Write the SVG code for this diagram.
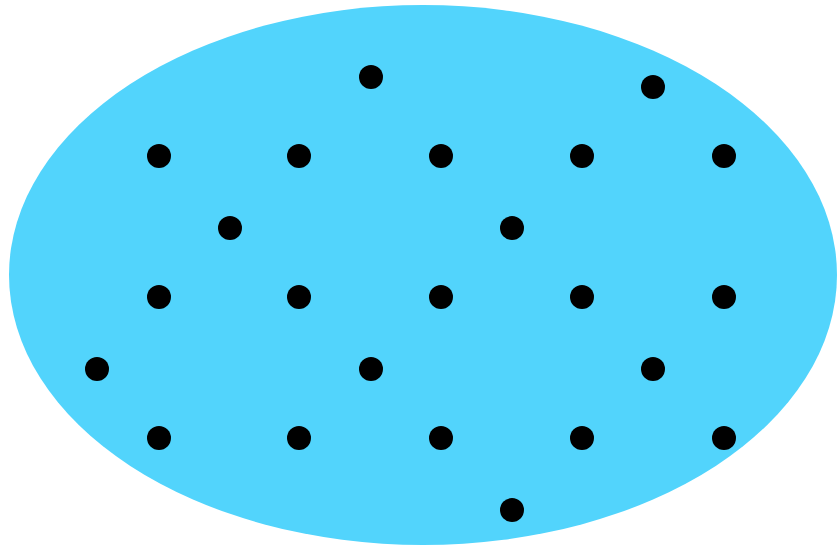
<svg xmlns="http://www.w3.org/2000/svg" width="838" height="554" viewBox="0 0 838 554">
<style>.d{fill:#000}</style>
<rect width="838" height="554" fill="#fff"/>
<ellipse id="region" cx="423" cy="275" rx="414" ry="270" fill="#52D4FC"/>
<g id="points" class="d">
<circle cx="371" cy="77" r="12"/><circle cx="653" cy="87" r="12"/>
<circle cx="159" cy="156" r="12"/><circle cx="299" cy="156" r="12"/><circle cx="441" cy="156" r="12"/><circle cx="582" cy="156" r="12"/><circle cx="724" cy="156" r="12"/>
<circle cx="230" cy="228" r="12"/><circle cx="512" cy="228" r="12"/>
<circle cx="159" cy="297" r="12"/><circle cx="299" cy="297" r="12"/><circle cx="441" cy="297" r="12"/><circle cx="582" cy="297" r="12"/><circle cx="724" cy="297" r="12"/>
<circle cx="97" cy="369" r="12"/><circle cx="371" cy="369" r="12"/><circle cx="653" cy="369" r="12"/>
<circle cx="159" cy="438" r="12"/><circle cx="299" cy="438" r="12"/><circle cx="441" cy="438" r="12"/><circle cx="582" cy="438" r="12"/><circle cx="724" cy="438" r="12"/>
<circle cx="512" cy="510" r="12"/>
</g>
</svg>
